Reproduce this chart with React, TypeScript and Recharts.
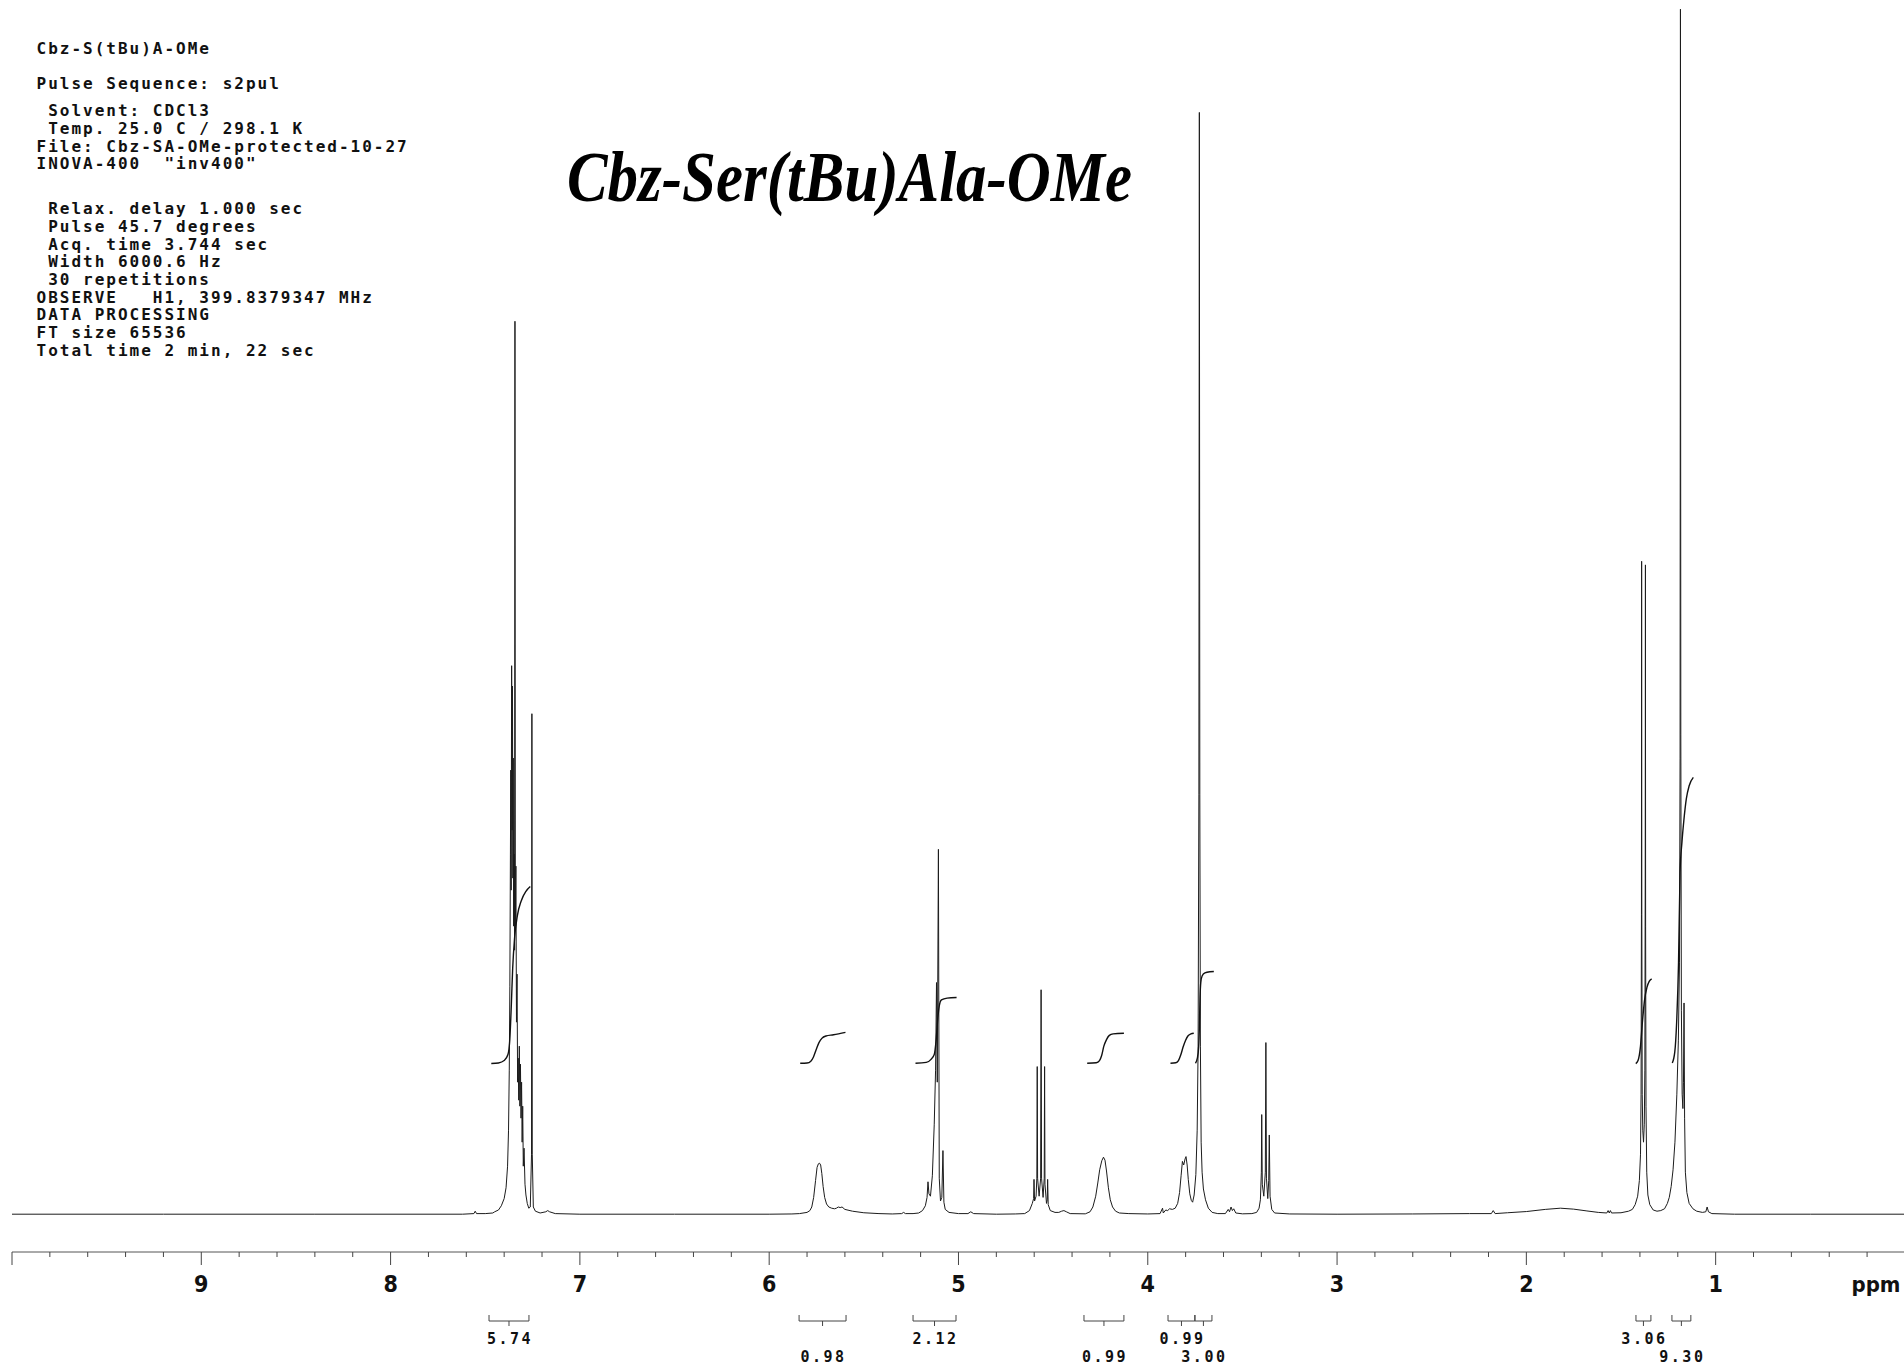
import React from 'react';
import { LineChart, Line, XAxis, YAxis, ReferenceArea } from 'recharts';

type Pt = [number, number];

// ---- spectrum trace: [ppm, intensity] (0 = baseline) ----
const traceLowField: Pt[] = [[10, 0], [9.2, 0], [8.4, 0], [7.62, 0], [7.56, 0.05], [7.553, 0.25], [7.546, 0.05], [7.5, 0.05], [7.46, 0.1]];
const traceAromatic: Pt[] = [
  [7.45, 0.2], [7.43, 0.35], [7.415, 0.7], [7.4, 1.3], [7.39, 2.2], [7.382, 4], [7.377, 7], [7.373, 12], [7.37, 19], [7.367, 30],
  [7.365, 37], [7.363, 27], [7.3605, 45.7], [7.358, 32], [7.356, 44], [7.354, 28], [7.352, 38], [7.35, 24], [7.347, 30], [7.345, 22],
  [7.343, 74.4], [7.341, 24], [7.338, 29], [7.335, 16], [7.332, 20], [7.329, 11], [7.326, 13], [7.323, 9.5], [7.32, 14], [7.317, 9],
  [7.314, 12.5], [7.311, 8], [7.308, 11], [7.305, 6], [7.302, 9], [7.299, 4], [7.295, 5.5], [7.29, 2.5], [7.285, 1.6], [7.278, 0.9],
  [7.27, 0.5], [7.262, 0.6], [7.2555, 5], [7.2535, 41.7], [7.2515, 5], [7.246, 0.6], [7.235, 0.25], [7.21, 0.1], [7.18, 0.2], [7.17, 0.3],
  [7.16, 0.2], [7.13, 0.05],
];
const traceGap1: Pt[] = [[7.0, 0], [6.5, 0], [6.0, 0], [5.88, 0.02]];
const traceNH: Pt[] = [
  [5.84, 0.05], [5.8, 0.15], [5.785, 0.3], [5.775, 0.6], [5.765, 1.4], [5.755, 2.8], [5.747, 3.9], [5.74, 4.2], [5.734, 4.25], [5.728, 4.1],
  [5.722, 3.4], [5.715, 2.3], [5.707, 1.4], [5.697, 0.85], [5.685, 0.6], [5.67, 0.5], [5.655, 0.45], [5.645, 0.5], [5.635, 0.6], [5.625, 0.55],
  [5.615, 0.6], [5.6, 0.4], [5.56, 0.25], [5.5, 0.12], [5.42, 0.05],
];
const traceGap2: Pt[] = [[5.35, 0.02], [5.3, 0.05], [5.29, 0.15], [5.28, 0.05], [5.24, 0.05]];
const traceCH2: Pt[] = [
  [5.21, 0.1], [5.19, 0.3], [5.175, 0.7], [5.166, 1.4], [5.161, 2.7], [5.156, 1.7], [5.148, 1.5], [5.138, 3.2], [5.128, 7.5], [5.121, 12],
  [5.116, 19.3], [5.112, 11], [5.106, 30.4], [5.1015, 3], [5.095, 1.1], [5.088, 1.4], [5.082, 5.3], [5.077, 1.0], [5.07, 0.4], [5.05, 0.15], [5.0, 0.05],
];
const traceGap3: Pt[] = [[4.95, 0.05], [4.935, 0.2], [4.92, 0.05], [4.8, 0], [4.7, 0.02], [4.65, 0.05]];
const traceAlaCH: Pt[] = [
  [4.625, 0.3], [4.61, 0.9], [4.603, 1.3], [4.601, 2.9], [4.598, 1.1], [4.59, 1.5], [4.586, 3], [4.584, 12.3], [4.582, 3], [4.574, 1.5],
  [4.566, 3], [4.5635, 18.7], [4.561, 3], [4.553, 1.4], [4.547, 3], [4.545, 12.3], [4.543, 2.5], [4.535, 0.9], [4.531, 1.2], [4.529, 2.9],
  [4.526, 0.8], [4.515, 0.3], [4.49, 0.15], [4.47, 0.15], [4.455, 0.25], [4.443, 0.3], [4.43, 0.2], [4.41, 0.05],
];
const traceSerCH: Pt[] = [
  [4.33, 0.03], [4.305, 0.2], [4.29, 0.6], [4.275, 1.5], [4.264, 2.6], [4.254, 3.7], [4.243, 4.45], [4.234, 4.75], [4.226, 4.5], [4.218, 3.6],
  [4.208, 2.2], [4.198, 1.2], [4.186, 0.6], [4.17, 0.25], [4.15, 0.1], [4.1, 0.05], [4.0, 0.02],
];
const traceOMe: Pt[] = [
  [3.935, 0.05], [3.922, 0.5], [3.918, 0.1], [3.905, 0.35], [3.895, 0.3], [3.885, 0.45], [3.87, 0.4], [3.855, 0.5], [3.842, 0.9], [3.832, 1.8],
  [3.824, 3.2], [3.817, 4.4], [3.81, 4.1], [3.803, 4.6], [3.798, 4.8], [3.792, 4.1], [3.786, 2.9], [3.778, 1.7], [3.77, 1.15], [3.763, 1.0],
  [3.755, 1.6], [3.746, 3.3], [3.739, 7], [3.734, 14], [3.73, 35], [3.7275, 91.8], [3.725, 35], [3.722, 14], [3.718, 6], [3.713, 3.5],
  [3.706, 2.1], [3.695, 1.2], [3.68, 0.5], [3.66, 0.15], [3.63, 0.05],
];
const traceMid: Pt[] = [[3.59, 0.05], [3.575, 0.4], [3.568, 0.2], [3.56, 0.6], [3.553, 0.3], [3.546, 0.45], [3.535, 0.1], [3.5, 0.03], [3.45, 0.05]];
const traceSerCH2: Pt[] = [
  [3.425, 0.15], [3.412, 0.5], [3.405, 1.2], [3.4, 3.5], [3.398, 8.3], [3.395, 2.5], [3.387, 1.5], [3.379, 3.5], [3.376, 14.3], [3.373, 3],
  [3.366, 1.3], [3.361, 2.8], [3.358, 6.6], [3.354, 1.5], [3.345, 0.4], [3.33, 0.1], [3.25, 0.02],
];
const traceHump: Pt[] = [
  [3.0, 0], [2.6, 0.02], [2.3, 0.05], [2.185, 0.05], [2.175, 0.3], [2.165, 0.05], [2.1, 0.12], [2.0, 0.22], [1.9, 0.4], [1.82, 0.5],
  [1.75, 0.42], [1.68, 0.27], [1.62, 0.15], [1.575, 0.1], [1.568, 0.3], [1.562, 0.1], [1.556, 0.3], [1.55, 0.1], [1.5, 0.12], [1.46, 0.25],
];
const traceAlaMe: Pt[] = [
  [1.44, 0.4], [1.425, 0.8], [1.412, 1.5], [1.403, 2.8], [1.397, 5], [1.394, 10], [1.392, 25], [1.391, 54.4], [1.39, 25], [1.388, 10],
  [1.385, 7], [1.381, 6], [1.377, 7.5], [1.374, 12], [1.372, 28], [1.371, 54.1], [1.37, 24], [1.368, 9], [1.364, 3.5], [1.358, 1.6],
  [1.348, 0.8], [1.33, 0.35], [1.31, 0.25], [1.29, 0.3],
];
const traceTBu: Pt[] = [
  [1.27, 0.45], [1.255, 0.9], [1.245, 1.4], [1.235, 2.3], [1.225, 3.7], [1.215, 6], [1.205, 10], [1.197, 14.5], [1.191, 21], [1.188, 38],
  [1.186, 100.4], [1.184, 40], [1.181, 17], [1.177, 10], [1.173, 8.8], [1.17, 11], [1.167, 17.6], [1.164, 8], [1.16, 3.5], [1.152, 1.8],
  [1.14, 0.9], [1.12, 0.45], [1.1, 0.25], [1.07, 0.15], [1.052, 0.2], [1.045, 0.6], [1.038, 0.2], [1.02, 0.05], [0.9, 0], [0.5, 0], [0, 0],
];

// ---- integral curves: [ppm, level] ----
const intAromatic: Pt[] = [[7.468, 12.55], [7.43, 12.6], [7.4, 12.8], [7.38, 13.3], [7.37, 14.6], [7.362, 17.5], [7.355, 20.5], [7.345, 23], [7.33, 24.9], [7.31, 26.1], [7.285, 26.9], [7.262, 27.3]];
const intNH: Pt[] = [[5.836, 12.58], [5.8, 12.6], [5.78, 12.75], [5.766, 13.1], [5.752, 13.7], [5.737, 14.3], [5.722, 14.65], [5.7, 14.85], [5.66, 14.95], [5.597, 15.15]];
const intCH2: Pt[] = [[5.227, 12.58], [5.17, 12.65], [5.145, 12.9], [5.128, 13.3], [5.118, 14.5], [5.11, 16.2], [5.102, 17.3], [5.09, 17.85], [5.06, 18.0], [5.01, 18.05]];
const intSerCH: Pt[] = [[4.32, 12.58], [4.272, 12.62], [4.255, 12.8], [4.244, 13.2], [4.232, 14.0], [4.218, 14.55], [4.203, 14.9], [4.183, 15.02], [4.126, 15.08]];
const intAlaCH: Pt[] = [[3.88, 12.58], [3.852, 12.62], [3.838, 12.8], [3.825, 13.3], [3.813, 13.95], [3.8, 14.5], [3.788, 14.85], [3.772, 15.02], [3.757, 15.08]];
const intOMe: Pt[] = [[3.748, 12.58], [3.738, 13.0], [3.731, 14.0], [3.7275, 15.5], [3.724, 18.0], [3.72, 19.3], [3.713, 19.85], [3.698, 20.1], [3.672, 20.2], [3.651, 20.22]];
const intAlaMe: Pt[] = [[1.422, 12.55], [1.41, 12.8], [1.397, 14], [1.387, 16], [1.376, 17.8], [1.363, 18.9], [1.351, 19.4], [1.338, 19.6]];
const intTBu: Pt[] = [[1.229, 12.6], [1.216, 13.5], [1.206, 16], [1.196, 21], [1.188, 28.5], [1.178, 31], [1.168, 32.8], [1.155, 34.6], [1.14, 35.7], [1.118, 36.4]];

// ---- integral regions (brackets under the axis) ----
const regionFrom = [7.48, 5.842, 5.24, 4.337, 3.893, 3.751, 1.421, 1.231];
const regionTo = [7.269, 5.594, 5.013, 4.126, 3.751, 3.661, 1.342, 1.131];
const regionValues = ['5.74', '0.98', '2.12', '0.99', '0.99', '3.00', '3.06', '9.30'];
const regionRow = [0, 1, 0, 1, 0, 1, 0, 1];

// ---- axis ----
const axisTicks = [
  10, 9.8, 9.6, 9.4, 9.2, 9, 8.8, 8.6, 8.4, 8.2, 8, 7.8, 7.6, 7.4, 7.2, 7, 6.8, 6.6, 6.4, 6.2, 6, 5.8, 5.6, 5.4, 5.2,
  5, 4.8, 4.6, 4.4, 4.2, 4, 3.8, 3.6, 3.4, 3.2, 3, 2.8, 2.6, 2.4, 2.2, 2, 1.8, 1.6, 1.4, 1.2, 1, 0.8, 0.6, 0.4, 0.2,
];
const labelledTicks = [9, 8, 7, 6, 5, 4, 3, 2, 1];
const majorTicks = [10, 9, 8, 7, 6, 5, 4, 3, 2, 1];

const headerLines = [
  'Cbz-S(tBu)A-OMe',
  'Pulse Sequence: s2pul',
  ' Solvent: CDCl3',
  ' Temp. 25.0 C / 298.1 K',
  'File: Cbz-SA-OMe-protected-10-27',
  'INOVA-400  "inv400"',
  ' Relax. delay 1.000 sec',
  ' Pulse 45.7 degrees',
  ' Acq. time 3.744 sec',
  ' Width 6000.6 Hz',
  ' 30 repetitions',
  'OBSERVE   H1, 399.8379347 MHz',
  'DATA PROCESSING',
  'FT size 65536',
  'Total time 2 min, 22 sec',
];
const headerBaselines = [54, 89, 116, 133.5, 151.5, 169, 214, 232, 249.5, 267, 285, 302.5, 320, 338, 356];
const titleText = 'Cbz-Ser(tBu)Ala-OMe';

const toRows = (pts: Pt[]) => pts.map(([ppm, v]) => ({ ppm, v }));
const spectrum = toRows([
  ...traceLowField, ...traceAromatic, ...traceGap1, ...traceNH, ...traceGap2, ...traceCH2, ...traceGap3,
  ...traceAlaCH, ...traceSerCH, ...traceOMe, ...traceMid, ...traceSerCH2, ...traceHump, ...traceAlaMe, ...traceTBu,
]);
const integralCurves = [intAromatic, intNH, intCH2, intSerCH, intAlaCH, intOMe, intAlaMe, intTBu].map(toRows);

const axisFont = "'DejaVu Sans Condensed', 'DejaVu Sans', sans-serif";
const monoFont = "'DejaVu Sans Mono', 'Liberation Mono', monospace";

const PpmTick = (props: any) => {
  const { x, y, payload } = props;
  const v = Math.round(payload.value * 10) / 10;
  const major = majorTicks.includes(v);
  return (
    <g>
      <line x1={x} y1={y} x2={x} y2={y + (major ? 13 : 5)} stroke="#444" strokeWidth={1} />
      {labelledTicks.includes(v) && (
        <text x={x} y={y + 39.5} textAnchor="middle" fontFamily={axisFont} fontStretch="condensed" fontWeight="bold" fontSize={23} fill="#111">
          {v}
        </text>
      )}
    </g>
  );
};

const renderPpmLabel = (props: any) => {
  const vb = props.viewBox || {};
  return (
    <text x={vb.x + vb.width - 28} y={vb.y + 39.5} textAnchor="middle" fontFamily={axisFont} fontStretch="condensed" fontWeight="bold" fontSize={22} fill="#111">
      ppm
    </text>
  );
};

const makeBracket = (value: string, row: number) => (props: any) => {
  const { x, y, width, height } = props;
  const x2 = x + width;
  const yb = y + height;
  const mid = x + width / 2;
  return (
    <g>
      <path d={`M${x},${y} L${x},${yb} L${x2},${yb} L${x2},${y} M${mid},${yb} L${mid},${yb + 5}`} fill="none" stroke="#444" strokeWidth={1} />
      <text x={mid + 1} y={yb + (row === 0 ? 23 : 41)} textAnchor="middle" fontFamily={monoFont} fontWeight="bold" fontSize={15} letterSpacing={2.5} fill="#111">
        {value}
      </text>
    </g>
  );
};

export default function App() {
  return (
    <div style={{ position: 'absolute', left: 0, top: 0, width: 1904, height: 1367, background: '#fff', overflow: 'hidden' }}>
      <LineChart width={1904} height={1367} margin={{ top: 8, right: 0, bottom: 0, left: 12 }}>
        <XAxis
          type="number"
          dataKey="ppm"
          domain={[0.005, 10]}
          reversed
          allowDataOverflow
          ticks={axisTicks}
          interval={0}
          tick={PpmTick}
          tickLine={false}
          tickSize={0}
          tickMargin={0}
          height={115}
          axisLine={{ stroke: '#555', strokeWidth: 1 }}
          label={renderPpmLabel}
        />
        <YAxis type="number" domain={[-3.15, 100.5]} allowDataOverflow hide />
        <Line data={spectrum} dataKey="v" type="linear" stroke="#1c1c1c" strokeWidth={1} dot={false} activeDot={false} isAnimationActive={false} />
        {integralCurves.map((c, i) => (
          <Line key={`int${i}`} data={c} dataKey="v" type="monotone" stroke="#111" strokeWidth={1.4} dot={false} activeDot={false} isAnimationActive={false} />
        ))}
        {regionFrom.map((f, i) => (
          <ReferenceArea
            key={`br${i}`}
            x1={f}
            x2={regionTo[i]}
            y1={-8.4}
            y2={-8.9}
            ifOverflow="visible"
            shape={makeBracket(regionValues[i], regionRow[i])}
          />
        ))}
      </LineChart>
      <svg width={1904} height={400} style={{ position: 'absolute', left: 0, top: 0, pointerEvents: 'none' }}>
        {headerLines.map((t, i) => (
          <text key={i} x={36.5} y={headerBaselines[i]} fontFamily={monoFont} fontWeight="bold" fontSize={16} letterSpacing={2} fill="#111" style={{ whiteSpace: 'pre' }}>
            {t}
          </text>
        ))}
        <text x={567} y={201} fontFamily="'Liberation Serif', 'Times New Roman', serif" fontWeight="bold" fontStyle="italic" fontSize={72} textLength={565} lengthAdjust="spacingAndGlyphs" fill="#000">
          {titleText}
        </text>
      </svg>
    </div>
  );
}
